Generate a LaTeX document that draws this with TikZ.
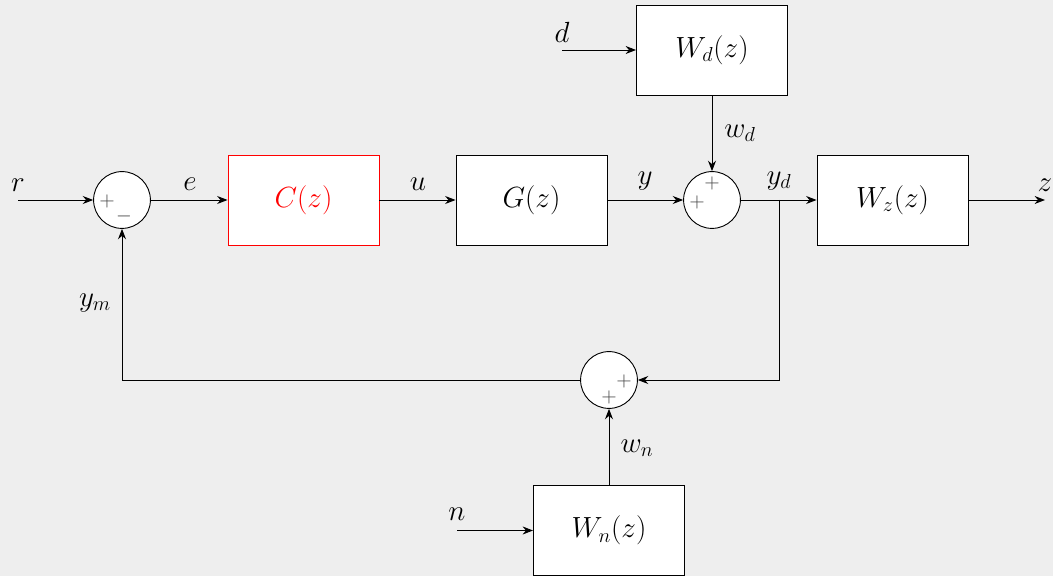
\documentclass[tikz,border=0pt]{standalone}
\usetikzlibrary{arrows.meta}
\definecolor{bg}{HTML}{EEEEEE}
\definecolor{sgncol}{HTML}{404040}
\begin{document}
\begin{tikzpicture}[x=0.025cm,y=-0.025cm,
  blk/.style={draw,fill=white,minimum width=3.775cm,minimum height=2.25cm,inner sep=0pt,font=\fontsize{22}{26}\selectfont},
  sumc/.style={circle,draw,fill=white,minimum size=1.42cm,inner sep=0pt},
  sgn/.style={font=\fontsize{14}{16}\selectfont,text=sgncol,inner sep=0pt},
  lbl/.style={font=\fontsize{22}{26}\selectfont,inner sep=0pt},
  >={Stealth[length=0.26cm,width=0.2cm]}, line width=0.65pt]
\fill[bg] (0,0) rectangle (1053,576);
\useasboundingbox (0,0) rectangle (1053,576);
% blocks
\node[sumc] (s1) at (122,200) {};
\node[blk,draw=red,text=red] (C) at (303.5,200) {$C(z)$};
\node[blk] (G) at (531.5,200) {$G(z)$};
\node[sumc] (s2) at (712,200) {};
\node[blk] (Wd) at (712,50) {$W_d(z)$};
\node[blk] (Wz) at (892.5,200) {$W_z(z)$};
\node[sumc] (s3) at (609,380) {};
\node[blk] (Wn) at (609,530.5) {$W_n(z)$};
% coordinates
\coordinate (rin) at (18,200);
\coordinate (din) at (562,50);
\coordinate (nin) at (457,530.5);
\coordinate (zout) at (1045,200);
\coordinate (br) at (779,200);
% signs
\node[sgn] (p1) at (107,201) {$+$};
\node[sgn] (m1) at (124,216) {$-$};
\node[sgn] (p2a) at (712,183) {$+$};
\node[sgn] (p2b) at (697,202) {$+$};
\node[sgn] (p3a) at (624,381) {$+$};
\node[sgn] (p3b) at (609,397) {$+$};
% labels
\node[lbl] (lr) at (18,185) {$r$};
\node[lbl] (le) at (190,184) {$e$};
\node[lbl] (lu) at (418,184) {$u$};
\node[lbl] (ly) at (645,181) {$y$};
\node[lbl] (lwd) at (740,133) {$w_d$};
\node[lbl] (lyd) at (779,181) {$y_d$};
\node[lbl] (lz) at (1045,185) {$z$};
\node[lbl] (lym) at (95,303) {$y_m$};
\node[lbl] (lwn) at (637,448) {$w_n$};
\node[lbl] (ld) at (562,32) {$d$};
\node[lbl] (ln) at (457,514) {$n$};
% connectors
\draw[->] (rin) -- (s1.west);
\draw[->] (s1.east) -- (C.west);
\draw[->] (C.east) -- (G.west);
\draw[->] (G.east) -- (s2.west);
\draw[->] (din) -- (Wd.west);
\draw[->] (Wd.south) -- (s2.north);
\draw[->] (s2.east) -- (Wz.west);
\draw[->] (Wz.east) -- (zout);
\draw[->] (br) |- (s3.east);
\draw[->] (nin) -- (Wn.west);
\draw[->] (Wn.north) -- (s3.south);
\draw[->] (s3.west) -| (s1.south);
\end{tikzpicture}
\end{document}
